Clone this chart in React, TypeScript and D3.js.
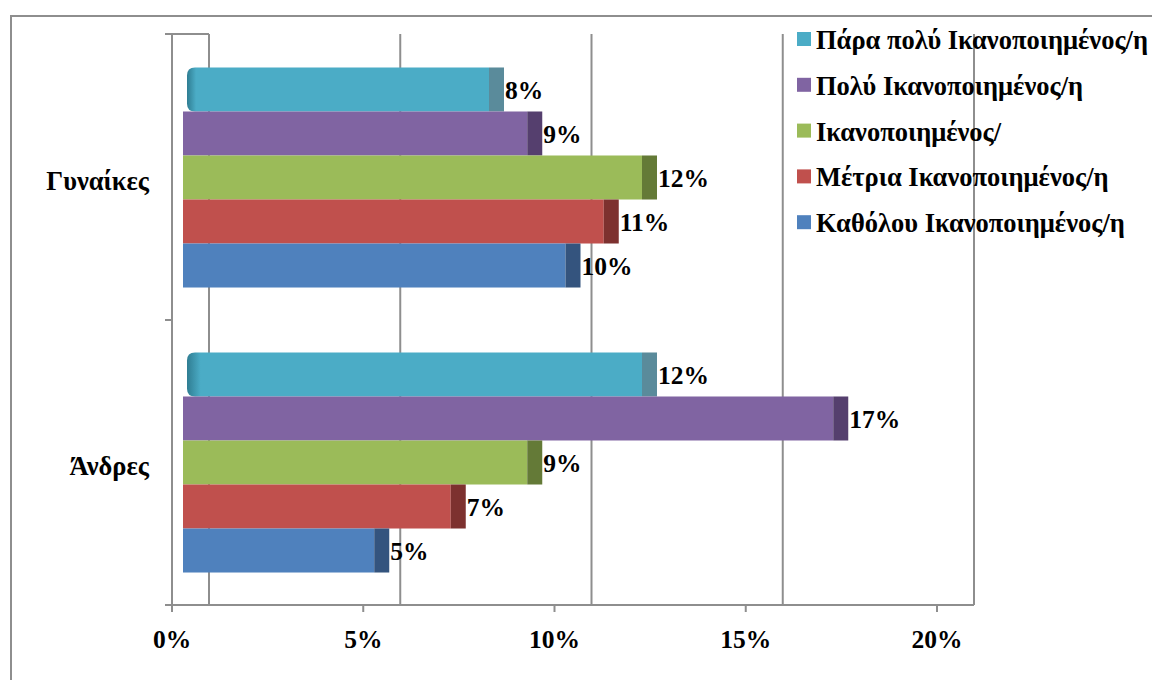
import React, {Component} from 'react';
import * as d3 from "d3"

// categories (top to bottom)
const categories = ["Γυναίκες", "Άνδρες"]
// series in legend / drawing order (top bar first)
const seriesNames = [
  "Πάρα πολύ Ικανοποιημένος/η",
  "Πολύ Ικανοποιημένος/η",
  "Ικανοποιημένος/",
  "Μέτρια Ικανοποιημένος/η",
  "Καθόλου Ικανοποιημένος/η",
]
// values in %, one array per series: [Γυναίκες, Άνδρες]
const paraPoly = [8, 12]
const poly = [9, 17]
const ikanop = [12, 9]
const metria = [11, 7]
const katholou = [10, 5]
const seriesValues = [paraPoly, poly, ikanop, metria, katholou]

const xTicks = [0, 5, 10, 15, 20]

const fills = ["#4bacc6", "#8064a2", "#9bbb59", "#c0504d", "#4f81bd"]
const sides = ["#5a8b9b", "#553f6e", "#647a37", "#7d312f", "#34547e"]

const FONT = "Liberation Serif"

interface AppState {
  padding: {width:number, height:number, top:number, bottom:number, left:number, right:number}
}

class App extends Component<{}, AppState> {
  svgRef = React.createRef<SVGSVGElement>()

  public constructor(props: {}) {
    super(props)
    this.state = {
      padding: {width: 1152, height: 680, top: 35, bottom: 605, left: 172, right: 937}
    }
  }

  componentDidMount() {
    this.renderChart()
  }

  renderChart() {
    const {padding} = this.state
    const depth = 37      // back wall offset
    const barShift = 11   // bars sit part-way into the depth
    const sideW = 15      // visible bar end face
    const gridColor = "#8e8e8e"

    const svg = d3.select(this.svgRef.current)
    svg.selectAll("*").remove()

    const defs = svg.append("defs")
    const grad = defs.append("linearGradient").attr("id", "cyanEdge")
      .attr("x1", 0).attr("x2", 1).attr("y1", 0).attr("y2", 0)
    grad.append("stop").attr("offset", 0).attr("stop-color", "#2f7d92")
    grad.append("stop").attr("offset", 0.03).attr("stop-color", "#4bacc6")
    grad.append("stop").attr("offset", 1).attr("stop-color", "#4bacc6")

    // outer chart border
    svg.append("path")
      .attr("d", `M11,${padding.height + 5} L11,16 L${padding.width + 5},16`)
      .attr("fill", "none").attr("stroke", gridColor).attr("stroke-width", 2)

    const x = d3.scaleLinear().domain([0, 20]).range([padding.left, padding.right])
    const y = d3.scaleBand<string>().domain(categories).range([padding.top, padding.bottom])
    const bw = y.bandwidth()
    const yInner = d3.scaleBand<string>().domain(seriesNames).range([bw * 0.114, bw * 0.886])

    // back wall gridlines
    svg.append("g").selectAll("line").data(xTicks).join("line")
      .attr("x1", d => x(d) + depth).attr("x2", d => x(d) + depth)
      .attr("y1", padding.top - 1).attr("y2", padding.bottom)
      .attr("stroke", gridColor).attr("stroke-width", 2)

    // front axes
    const axes = svg.append("g").attr("stroke", gridColor).attr("stroke-width", 2).attr("fill", "none")
    axes.append("line").attr("x1", padding.left).attr("x2", padding.left)
      .attr("y1", padding.top - 1).attr("y2", padding.bottom)
    axes.append("line").attr("x1", padding.left - 7).attr("x2", x(0) + depth)
      .attr("y1", padding.top - 1).attr("y2", padding.top - 1)
    axes.append("line").attr("x1", padding.left - 7).attr("x2", x(20) + depth)
      .attr("y1", padding.bottom).attr("y2", padding.bottom)
    axes.append("line").attr("x1", padding.left - 7).attr("x2", padding.left)
      .attr("y1", padding.top + bw).attr("y2", padding.top + bw)
    axes.selectAll(".tick").data(xTicks).join("line").attr("class", "tick")
      .attr("x1", d => x(d)).attr("x2", d => x(d))
      .attr("y1", padding.bottom).attr("y2", padding.bottom + 7)

    const styleText = (sel: any, size: number) =>
      sel.style("font-family", FONT).style("font-weight", "bold")
        .style("font-size", `${size}px`).style("fill", "#000")

    // x tick labels
    svg.append("g").selectAll("text").data(xTicks).join("text")
      .attr("x", d => x(d)).attr("y", 639)
      .attr("text-anchor", "middle").attr("dominant-baseline", "central")
      .call(styleText, 25.5)
      .text(d => `${d}%`)

    // category labels
    svg.append("g").selectAll("text").data(categories).join("text")
      .attr("x", 149).attr("y", d => (y(d) as number) + bw / 2 + 3)
      .attr("text-anchor", "end").attr("dominant-baseline", "central")
      .call(styleText, 26.5)
      .text(d => d)

    // bars
    const barData: {cat:string, series:string, si:number, value:number}[] = []
    categories.forEach((cat, ci) => {
      seriesNames.forEach((s, si) => {
        barData.push({cat, series: s, si, value: seriesValues[si][ci]})
      })
    })

    const bars = svg.append("g").selectAll("g").data(barData).join("g")
      .attr("transform", d => `translate(0,${(y(d.cat) as number) + (yInner(d.series) as number)})`)
    const h = yInner.bandwidth()
    const x0 = x(0) + barShift

    bars.each(function (d) {
      const g = d3.select(this)
      const xe = x(d.value) + barShift
      if (d.si === 0) {
        const r = 8
        const xs = x0 + 4
        g.append("path")
          .attr("d", `M${xe},0 L${xs + r},0 Q${xs},0 ${xs},${r} L${xs},${h - r} Q${xs},${h} ${xs + r},${h} L${xe},${h} Z`)
          .attr("fill", "url(#cyanEdge)")
      } else {
        g.append("rect").attr("x", x0).attr("y", 0).attr("width", xe - x0).attr("height", h)
          .attr("fill", fills[d.si])
      }
      g.append("rect").attr("x", xe).attr("y", 0).attr("width", sideW).attr("height", h)
        .attr("fill", sides[d.si])
      g.append("text")
        .attr("x", xe + sideW + 1).attr("y", h / 2 + 1)
        .attr("dominant-baseline", "central")
        .call(styleText, 25.5)
        .text(`${d.value}%`)
    })

    // legend
    const legend = svg.append("g").selectAll("g").data(seriesNames).join("g")
      .attr("transform", (d, i) => `translate(797,${39 + i * 45.8})`)
    legend.append("rect").attr("x", 0).attr("y", -7).attr("width", 14).attr("height", 14)
      .attr("fill", (d, i) => fills[i])
    legend.append("text").attr("x", 19).attr("y", 1)
      .attr("dominant-baseline", "central")
      .call(styleText, 26.5)
      .text(d => d)
  }

  public render(): JSX.Element {
    const {padding} = this.state
    return (
      <svg
        ref={this.svgRef}
        width={padding.width}
        height={padding.height}
        style={{position: "absolute", left: 0, top: 0, background: "#fff"}}
      />
    )
  }
}

export default App;
